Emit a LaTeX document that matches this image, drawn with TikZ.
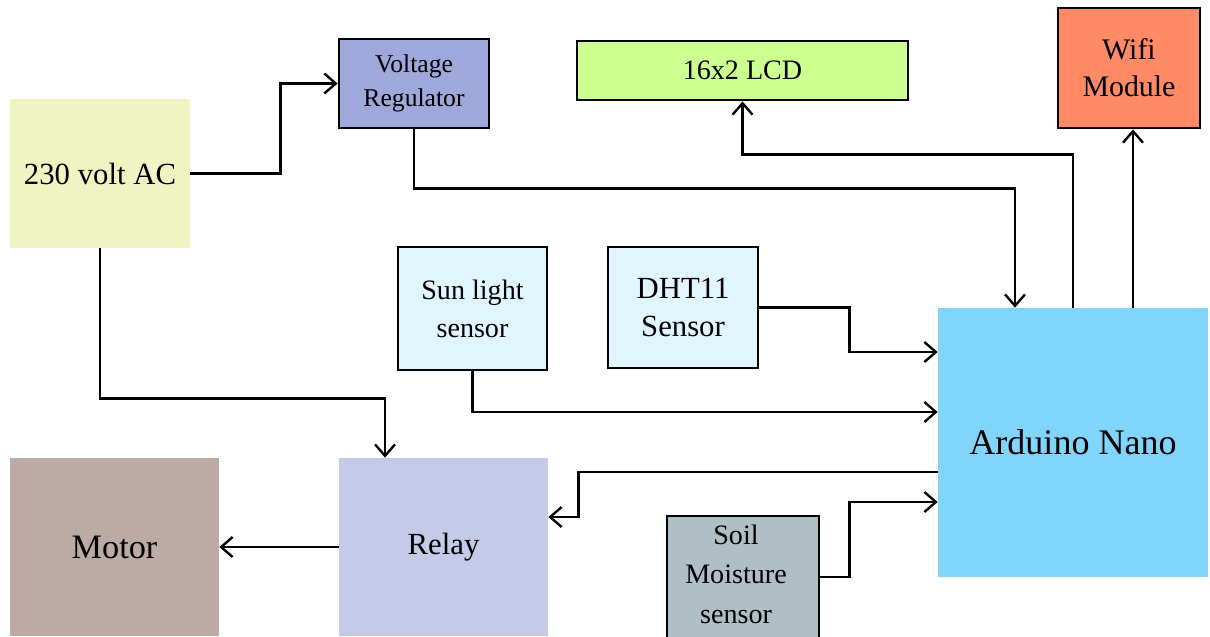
\documentclass[tikz,border=0pt]{standalone}
\usepackage{fontspec}
\setmainfont{Liberation Serif}
\usetikzlibrary{arrows.meta,positioning}

\definecolor{acfill}{HTML}{F0F4C3}
\definecolor{vregfill}{HTML}{9FA8DA}
\definecolor{lcdfill}{HTML}{CCFF90}
\definecolor{wififill}{HTML}{FF8A65}
\definecolor{sensfill}{HTML}{E1F5FE}
\definecolor{nanofill}{HTML}{81D4FA}
\definecolor{motorfill}{HTML}{BCAAA4}
\definecolor{relayfill}{HTML}{C5CAE9}
\definecolor{soilfill}{HTML}{B0BEC5}

\begin{document}
\begin{tikzpicture}[
    x=0.02cm,y=-0.02cm,
    box/.style={draw=none,align=center,inner sep=0pt,
      font=\fontsize{16}{21.5}\selectfont},
    framed/.style={box,draw=black,line width=1.6pt},
    arrow/.style={-{Straight Barb[length=2.3mm,width=4mm]},draw=black,line width=1.35pt}
  ]
    \useasboundingbox (0,0) rectangle (1210,636);
    \node[box,fill=acfill,minimum width=3.6cm,minimum height=2.98cm,
      font=\fontsize{17.5}{22}\selectfont] (ac) at (100,173.5) {230 volt AC};
    \node[framed,fill=vregfill,minimum width=3.0cm,minimum height=1.78cm,
      font=\fontsize{14.6}{19}\selectfont] (vreg) at (414,83.5) {Voltage\\Regulator};
    \node[framed,fill=lcdfill,minimum width=6.62cm,minimum height=1.18cm] (lcd) at (742.5,70.5) {16x2 LCD};
    \node[framed,fill=wififill,minimum width=2.84cm,minimum height=2.4cm,
      font=\fontsize{17}{21}\selectfont] (wifi) at (1129,68) {Wifi\\Module};
    \node[framed,fill=sensfill,minimum width=2.98cm,minimum height=2.46cm] (sun) at (472.5,308.5) {Sun light\\sensor};
    \node[framed,fill=sensfill,minimum width=3.0cm,minimum height=2.42cm,
      font=\fontsize{17.5}{22}\selectfont] (dht) at (683,307.5) {DHT11\\Sensor};
    \node[box,fill=nanofill,minimum width=5.4cm,minimum height=5.38cm,
      font=\fontsize{20.5}{24}\selectfont] (nano) at (1073,442.5) {Arduino Nano};
    \node[box,fill=motorfill,minimum width=4.18cm,minimum height=3.56cm,
      font=\fontsize{19.5}{23}\selectfont] (motor) at (114.5,547) {Motor};
    \node[box,fill=relayfill,minimum width=4.18cm,minimum height=3.56cm,
      font=\fontsize{17.5}{22}\selectfont] (relay) at (443.5,547) {Relay};
    \node[framed,fill=soilfill,minimum width=3.04cm,minimum height=2.52cm,
      font=\fontsize{16}{22.5}\selectfont] (soil) at (743,579) {};
    \node[box,font=\fontsize{16}{22.5}\selectfont] (soiltext) at (736,574) {Soil\\Moisture\\sensor};

    \draw[arrow] (ac.east) -- ++(90,0) |- (vreg.west);
    \draw[arrow] (vreg.south) -- ++(0,59) -| ([xshift=-1.16cm]nano.north);
    \draw[arrow] (nano.north) -- ++(0,-153) -| (lcd.south);
    \draw[arrow] ([xshift=1.2cm]nano.north) -- ([xshift=1.2cm]nano.north |- wifi.south);
    \draw[arrow] (ac.south) -- ++(0,150) -| ([xshift=-1.17cm]relay.north);
    \draw[arrow] (dht.east) -- ++(90,0) |- ([yshift=1.81cm]nano.west);
    \draw[arrow] (sun.south) |- ([yshift=0.61cm]nano.west);
    \draw[arrow] ([yshift=-0.59cm]nano.west) -- ++(-359,0) |- ([yshift=0.6cm]relay.east);
    \draw[arrow] (soil.east |- 0,577) -- ++(29,0) |- ([yshift=-1.19cm]nano.west);
    \draw[arrow] (relay.west) -- (motor.east);
  \end{tikzpicture}
\end{document}
